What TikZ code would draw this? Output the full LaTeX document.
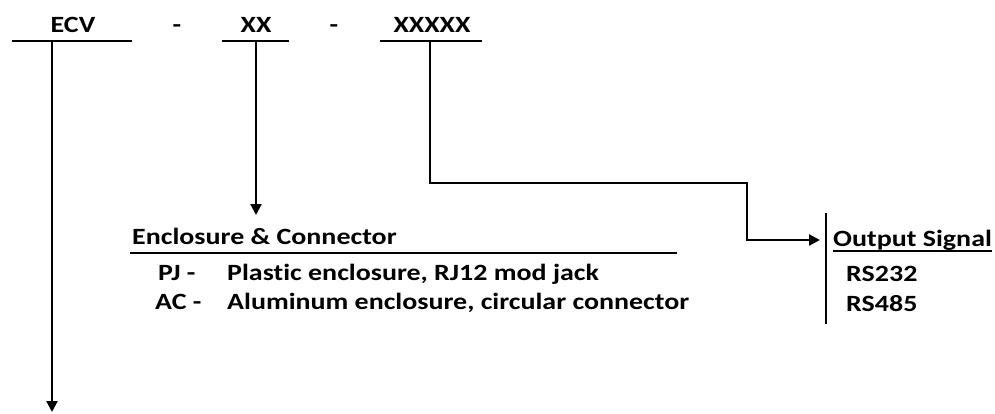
\documentclass[tikz,border=0pt]{standalone}
\usepackage{fontspec}
\setmainfont{Carlito}[FakeStretch=1.2,Ligatures=NoCommon]
\usepackage{tikz}
\usetikzlibrary{arrows.meta}

\begin{document}
\begin{tikzpicture}[x=1pt,y=-1pt,
    every node/.style={font=\fontsize{23.3}{27}\selectfont\bfseries,inner sep=0pt},
    bar/.style={line width=2.6pt},
    conn/.style={line width=2.2pt,-{Triangle[length=11pt,width=11pt]}}]

    \useasboundingbox (0,0) rectangle (995,414);

    \node[anchor=base] (ecv) at (73,33)  {ECV};
    \node[anchor=base] (d1)  at (177,33) {-};
    \node[anchor=base] (xx)  at (256,33) {XX};
    \node[anchor=base] (d2)  at (334,33) {-};
    \node[anchor=base] (x5)  at (432,33) {XXXXX};

    \draw[bar] (12,41) -- (132,41);
    \draw[bar] (222,41) -- (289,41);
    \draw[bar] (380,41) -- (482,41);

    \coordinate (ecvbar) at (52,41);
    \coordinate (xxbar)  at (256,41);
    \coordinate (x5bar)  at (430,41);
    \coordinate (ecvend) at (52,412);
    \coordinate (xxend)  at (256,215);
    \coordinate (turn)   at (747,183);
    \coordinate (sigin)  at (820,240);

    \node[anchor=base west] (enc) at (132,244) {Enclosure \& Connector};
    \draw[bar] (130,253) -- (677,253);
    \node[anchor=base west] (pj)  at (158,280) {PJ -};
    \node[anchor=base west] (pjt) at (227,280) {Plastic enclosure, RJ12 mod jack};
    \node[anchor=base west] (ac)  at (155,309) {AC -};
    \node[anchor=base west] (act) at (227,309) {Aluminum enclosure, circular connector};

    \draw[line width=2pt] (826,213) -- (826,324);
    \node[anchor=base west] (sig) at (833,246) {Output Signal};
    \draw[line width=1.6pt] (sig.base west)++(0,5) -- (sig.base east |- 0,251);
    \node[anchor=base west] (rs1) at (846,281) {RS232};
    \node[anchor=base west] (rs2) at (846,311) {RS485};

    \draw[conn] (ecvbar) -- (ecvend);
    \draw[conn] (xxbar) -- (xxend);
    \draw[conn] (x5bar) |- (turn) |- (sigin);
\end{tikzpicture}
\end{document}
